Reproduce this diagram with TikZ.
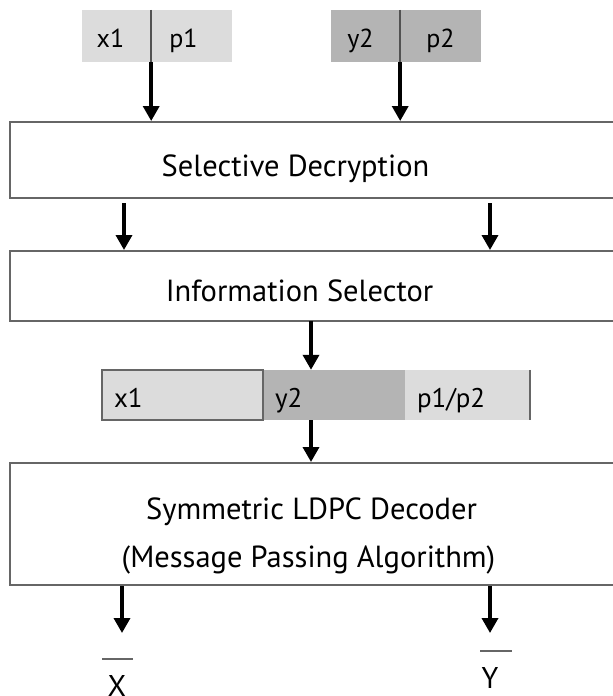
\documentclass[tikz,border=0pt]{standalone}
\usepackage{fontspec}
\setmainfont{PT Sans}
\usetikzlibrary{arrows.meta}
\definecolor{lightc}{HTML}{DCDCDC}
\definecolor{darkc}{HTML}{B4B4B4}
\definecolor{edgec}{HTML}{666666}
\newcommand{\lowtext}[2]{\raisebox{-#1}[0pt][0pt]{#2}}
\tikzset{
  bigbox/.style={draw=edgec, line width=2pt, fill=white, minimum width=615pt, inner sep=0pt, font=\fontsize{30.5}{34}\selectfont},
  cell/.style={inner sep=0pt, minimum height=52pt, font=\fontsize{26}{30}\selectfont},
  stripcell/.style={inner xsep=12pt, inner ysep=0pt, minimum height=50pt, align=left, font=\fontsize{27}{30}\selectfont},
  arr/.style={line width=3.5pt, -{Triangle[width=16pt,length=15pt]}},
  divider/.style={draw=edgec!80!black, line width=2pt},
  lbl/.style={inner sep=0pt, font=\fontsize{30}{34}\selectfont},
}
\begin{document}
\begin{tikzpicture}[x=1pt,y=-1pt]
\useasboundingbox (0,0) rectangle (613,696);
% top input blocks
\node[cell, fill=lightc, minimum width=69pt] (tx1) at (116.5,36) {\hspace*{-12pt}\lowtext{11pt}{x1}};
\node[cell, fill=lightc, minimum width=81pt] (tp1) at (191.5,36) {\hspace*{-16pt}\lowtext{11pt}{p1}};
\node[cell, fill=darkc, minimum width=69pt] (ty2) at (365.5,36) {\hspace*{-10pt}\lowtext{11pt}{y2}};
\node[cell, fill=darkc, minimum width=81pt] (tp2) at (440.5,36) {\lowtext{11pt}{p2}};
\draw[divider] (tx1.north east) -- (tx1.south east);
\draw[divider] (ty2.north east) -- (ty2.south east);
% boxes
\node[bigbox, minimum height=76pt] (sd) at (317.5,160) {\hspace*{-44pt}\lowtext{16pt}{Selective Decryption}};
\node[bigbox, minimum height=70pt] (is) at (317.5,286) {\hspace*{-36pt}\lowtext{15pt}{Information Selector}};
\node[bigbox, minimum height=122pt] (dec) at (317.5,524)
  {\raisebox{5pt}[0pt][0pt]{\begin{tabular}[t]{@{}c@{}}\hspace*{-12pt}Symmetric LDPC Decoder\\[14pt]\hspace*{-18pt}(Message Passing Algorithm)\end{tabular}}};
% strip
\node[stripcell, fill=darkc, minimum width=142pt, text width=118pt] (sy2) at (334,395) {\lowtext{12pt}{y2}};
\node[stripcell, fill=lightc, minimum width=125pt, text width=101pt] (sp) at (467.5,395) {\lowtext{12pt}{p1/p2}};
\node[stripcell, fill=lightc, draw=edgec, line width=1.5pt, minimum width=161pt, text width=137pt] (sx1) at (182.5,395) {\lowtext{12pt}{x1}};
\draw[edgec, line width=1.5pt] (sp.north east) -- (sp.south east);
% arrows
\draw[arr] (tx1.south east) -- (tx1.south east |- sd.north);
\draw[arr] (ty2.south east) -- (ty2.south east |- sd.north);
\coordinate (a1) at (124,203);
\coordinate (a2) at (490,203);
\draw[arr] (a1) -- (a1 |- is.north);
\draw[arr] (a2) -- (a2 |- is.north);
\draw[arr] (311,321) coordinate (b1) -- (b1 |- sy2.north);
\draw[arr] (sy2.south -| b1) -- (b1 |- dec.north);
\coordinate (c1) at (122,633);
\coordinate (c2) at (490,633);
\draw[arr] (c1 |- dec.south) -- (c1);
\draw[arr] (c2 |- dec.south) -- (c2);
% outputs
\node[lbl, anchor=north] (X) at (117,675) {X};
\node[lbl, anchor=north] (Y) at (490,667) {Y};
\draw[edgec, line width=1.8pt] (102,659) -- (133,659);
\draw[edgec, line width=1.8pt] (480,651) -- (512,651);
\end{tikzpicture}
\end{document}
